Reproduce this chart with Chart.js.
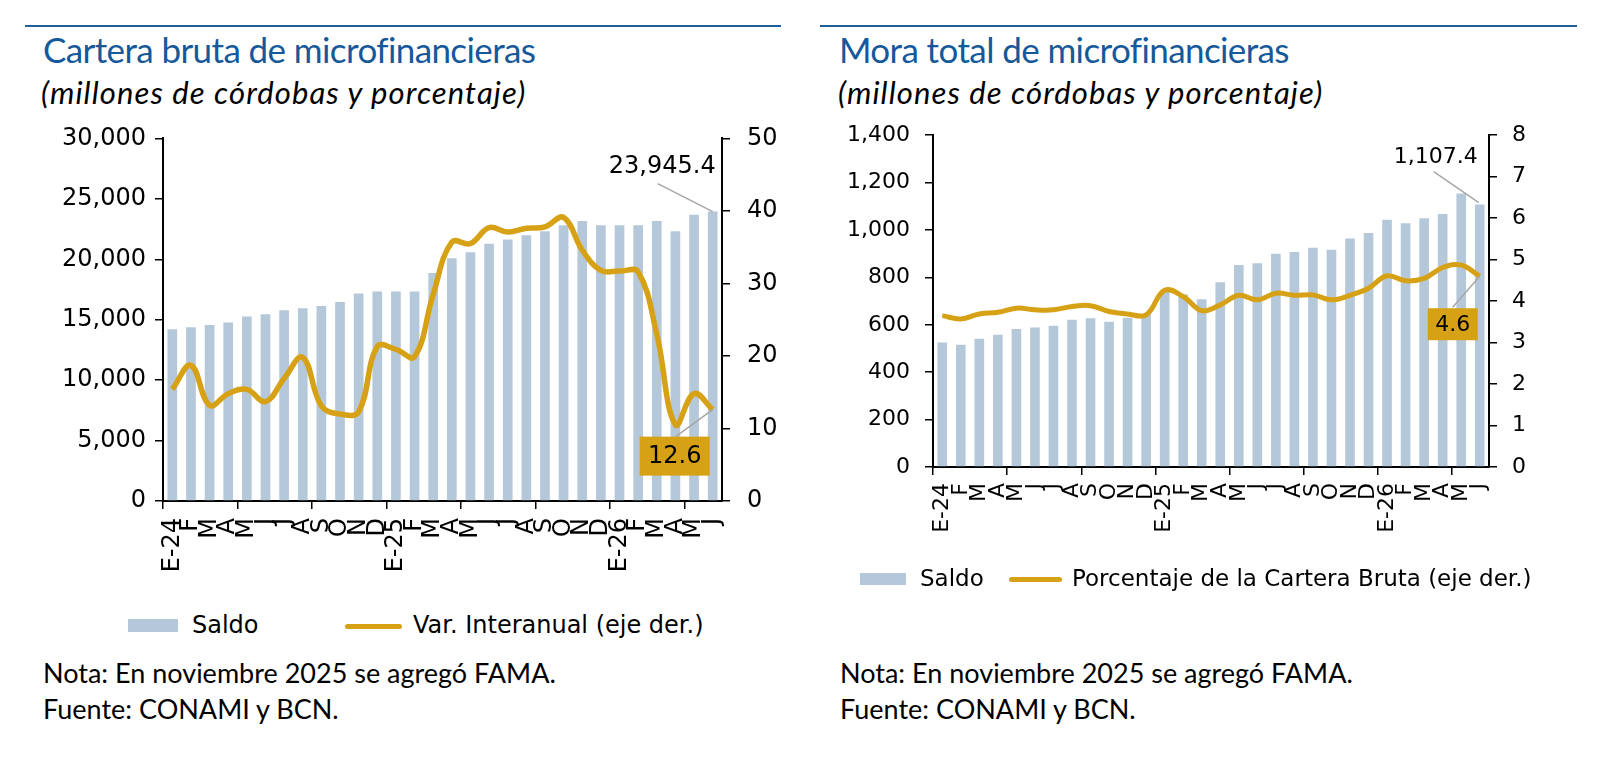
<!DOCTYPE html>
<html>
<head>
<meta charset="utf-8">
<script src="https://cdn.jsdelivr.net/npm/chart.js@4.4.0/dist/chart.umd.min.js"></script>
<style>
    body { margin: 0; width: 1606px; height: 772px; background: #fff; position: relative; overflow: hidden; font-family: Lato, sans-serif; }
    .rule { position: absolute; top: 25px; height: 2px; background: #1F5F9E; }
    .title { position: absolute; top: 29px; font-size: 35px; letter-spacing: -0.6px; line-height: 40px; color: #15599A; white-space: nowrap; }
    .subtitle { position: absolute; top: 74px; font-size: 31px; font-style: italic; letter-spacing: 1.1px; line-height: 36px; color: #000; white-space: nowrap; }
    .note { position: absolute; font-size: 27px; line-height: 32px; color: #000; white-space: nowrap; }
    .legend { position: absolute; font-family: "DejaVu Sans", sans-serif; color: #000; white-space: nowrap; }
    .swatch { position: absolute; background: #B5C8DA; }
    .lineswatch { position: absolute; height: 5px; border-radius: 3px; background: #D6A115; }
    canvas { position: absolute; }
</style>
</head>
<body>

<!-- left panel -->
<div class="rule" style="left:25px; width:756px;"></div>
<div class="title" style="left:43px;">Cartera bruta de microfinancieras</div>
<div class="subtitle" style="left:41px;">(millones de córdobas y porcentaje)</div>
<div id="wrapLeft" style="position:absolute; left:0; top:107px; width:800px; height:480px;">
    <canvas id="carteraChart"></canvas>
</div>
<div class="swatch" style="left:128px; top:619px; width:50px; height:13px;"></div>
<div class="legend" style="left:192px; top:609px; font-size:24px; line-height:32px;">Saldo</div>
<div class="lineswatch" style="left:345px; top:624px; width:57px;"></div>
<div class="legend" style="left:413px; top:609px; font-size:24px; line-height:32px;">Var. Interanual (eje der.)</div>
<div class="note" style="left:43px; top:657px;">Nota: En noviembre 2025 se agregó FAMA.</div>
<div class="note" style="left:43px; top:693px;">Fuente: CONAMI y BCN.</div>

<!-- right panel -->
<div class="rule" style="left:820px; width:757px;"></div>
<div class="title" style="left:839px;">Mora total de microfinancieras</div>
<div class="subtitle" style="left:838px;">(millones de córdobas y porcentaje)</div>
<div id="wrapRight" style="position:absolute; left:800px; top:107px; width:780px; height:470px;">
    <canvas id="moraChart"></canvas>
</div>
<div class="swatch" style="left:860px; top:573px; width:46px; height:12px;"></div>
<div class="legend" style="left:920px; top:563px; font-size:23px; line-height:30px;">Saldo</div>
<div class="lineswatch" style="left:1009px; top:577px; width:53px;"></div>
<div class="legend" style="left:1072px; top:563px; font-size:23px; line-height:30px;">Porcentaje de la Cartera Bruta (eje der.)</div>
<div class="note" style="left:840px; top:657px;">Nota: En noviembre 2025 se agregó FAMA.</div>
<div class="note" style="left:840px; top:693px;">Fuente: CONAMI y BCN.</div>

<script>
// Months Jan-2024 .. Jun-2026
const months = ['E-24', 'F', 'M', 'A', 'M', 'J', 'J', 'A', 'S', 'O', 'N', 'D',
                'E-25', 'F', 'M', 'A', 'M', 'J', 'J', 'A', 'S', 'O', 'N', 'D',
                'E-26', 'F', 'M', 'A', 'M', 'J'];

// Cartera bruta (millones de córdobas) and variación interanual (%)
const carteraSaldo = [14200, 14380, 14570, 14770, 15260, 15450, 15780, 15950, 16140, 16470, 17160, 17330,
                      17330, 17330, 18870, 20080, 20580, 21290, 21630, 21980, 22310, 22810, 23170, 22810,
                      22810, 22810, 23170, 22310, 23690, 23945.4];
const carteraVar = [15.4, 18.7, 13.2, 14.8, 15.4, 13.7, 16.9, 19.8, 13.1, 12.0, 12.3, 21.3,
                    20.9, 19.9, 28.5, 35.7, 35.5, 37.7, 37.1, 37.6, 37.8, 39.1, 34.6, 31.8,
                    31.7, 31.6, 23.0, 10.5, 14.8, 12.6];

// Mora total (millones de córdobas) and % de la cartera bruta
const moraSaldo = [525, 516, 541, 558, 582, 589, 596, 621, 628, 613, 630, 645,
                   738, 728, 708, 780, 852, 860, 900, 907, 925, 917, 964, 987,
                   1043, 1028, 1050, 1067, 1154, 1107.4];
const moraPct = [3.65, 3.57, 3.69, 3.73, 3.83, 3.79, 3.79, 3.87, 3.89, 3.75, 3.69, 3.67,
                 4.26, 4.11, 3.77, 3.91, 4.14, 4.03, 4.19, 4.14, 4.15, 4.03, 4.14, 4.31,
                 4.61, 4.49, 4.55, 4.81, 4.87, 4.6];

// Axis ticks
const carteraTicks = { max: 30000, step: 5000, rightMax: 50, rightStep: 10 };
const moraTicks = { max: 1400, step: 200, rightMax: 8, rightStep: 1 };

const BAR_COLOR = '#B5C8DA';
const LINE_COLOR = '#D6A115';
const LEADER_COLOR = '#A6A6A6';

// Draws the value call-outs (last bar / last point) with a leader line
const calloutPlugin = {
    id: 'callout',
    afterDatasetsDraw(chart, args, opts) {
        const ctx = chart.ctx;
        (opts.items || []).forEach(it => {
            const pt = chart.getDatasetMeta(it.dataset).data[it.index];
            const px = pt.x, py = pt.y;
            ctx.save();
            // leader
            ctx.strokeStyle = LEADER_COLOR;
            ctx.lineWidth = 1.5;
            ctx.beginPath();
            ctx.moveTo(px + it.from[0], py + it.from[1]);
            ctx.lineTo(px + it.to[0], py + it.to[1]);
            ctx.stroke();
            // label
            ctx.font = it.size + 'px "DejaVu Sans"';
            ctx.fillStyle = '#000';
            if (it.box) {
                const [bx, by, bw, bh] = it.box;
                ctx.fillStyle = LINE_COLOR;
                ctx.fillRect(px + bx, py + by, bw, bh);
                ctx.fillStyle = '#000';
                ctx.textAlign = 'center';
                ctx.textBaseline = 'middle';
                ctx.fillText(it.text, px + bx + bw / 2, py + by + bh / 2 + 1);
            } else {
                ctx.textAlign = 'right';
                ctx.textBaseline = 'alphabetic';
                ctx.fillText(it.text, px + it.at[0], py + it.at[1]);
            }
            ctx.restore();
        });
    }
};

function fmt(v) {
    return v.toLocaleString('en-US');
}

function buildChart(id, cfg) {
    const ctx = document.getElementById(id);
    const font = { family: '"DejaVu Sans"', size: cfg.fontSize };
    const tickGrid = { drawOnChartArea: false, tickLength: 8, color: '#000', lineWidth: 1.5 };
    const border = { color: '#000', width: 2 };

    return new Chart(ctx, {
        data: {
            labels: months,
            datasets: [{
                type: 'line',
                label: cfg.lineLabel,
                data: cfg.line,
                yAxisID: 'y1',
                borderColor: LINE_COLOR,
                borderWidth: cfg.lineWidth,
                tension: 0.4,
                pointRadius: 0,
                order: 0
            }, {
                type: 'bar',
                label: 'Saldo',
                data: cfg.bars,
                yAxisID: 'y',
                backgroundColor: BAR_COLOR,
                barPercentage: 0.52,
                categoryPercentage: 1,
                order: 1
            }]
        },
        options: {
            responsive: true,
            maintainAspectRatio: false,
            animation: false,
            // top of the plot comes from the tick label padding of the y axes
            layout: { padding: 0 },
            plugins: {
                legend: { display: false },
                tooltip: { enabled: false },
                callout: { items: cfg.callouts }
            },
            scales: {
                x: {
                    offset: true,
                    ticks: { autoSkip: false, minRotation: 90, maxRotation: 90, color: '#000', font: font, padding: cfg.xPad },
                    grid: Object.assign({}, tickGrid, {
                        offset: true,
                        color: c => (c.index % 4 === 0 ? '#000' : 'rgba(0,0,0,0)')
                    }),
                    border: border,
                    afterFit: s => { s.height = cfg.xHeight; }
                },
                y: {
                    position: 'left',
                    min: 0,
                    max: cfg.ticks.max,
                    ticks: { stepSize: cfg.ticks.step, color: '#000', font: font, padding: cfg.yPad, callback: v => fmt(v) },
                    grid: tickGrid,
                    border: border,
                    afterFit: s => { s.width = cfg.leftWidth; }
                },
                y1: {
                    position: 'right',
                    min: 0,
                    max: cfg.ticks.rightMax,
                    ticks: { stepSize: cfg.ticks.rightStep, color: '#000', font: font, padding: cfg.y1Pad },
                    grid: tickGrid,
                    border: border,
                    afterFit: s => { s.width = cfg.rightWidth; }
                }
            }
        },
        plugins: [calloutPlugin]
    });
}

document.addEventListener('DOMContentLoaded', function() {
    buildChart('carteraChart', {
        bars: carteraSaldo,
        line: carteraVar,
        lineLabel: 'Var. Interanual (eje der.)',
        ticks: carteraTicks,
        fontSize: 24,
        lineWidth: 5.5,
        leftWidth: 163,
        rightWidth: 78,
        xHeight: 86,
        xPad: 9,
        yPad: 9,
        y1Pad: 17,
        callouts: [
            { dataset: 1, index: 29, text: fmt(23945.4), size: 24, at: [3, -39], from: [-55, -28], to: [0, 0] },
            { dataset: 0, index: 29, text: '12.6', size: 24, box: [-73, 27, 70, 39], from: [-37, 27], to: [0, 0] }
        ]
    });

    buildChart('moraChart', {
        bars: moraSaldo,
        line: moraPct,
        lineLabel: 'Porcentaje de la Cartera Bruta (eje der.)',
        ticks: moraTicks,
        fontSize: 22,
        lineWidth: 5,
        leftWidth: 133,
        rightWidth: 91,
        xHeight: 110,
        xPad: 8,
        yPad: 15,
        y1Pad: 15,
        callouts: [
            { dataset: 1, index: 29, text: fmt(1107.4), size: 22, at: [-2, -42], from: [-46, -33], to: [-1, -2] },
            { dataset: 0, index: 29, text: '4.6', size: 22, box: [-52, 32, 50, 32], from: [-27, 31], to: [0, 0] }
        ]
    });
});
</script>
</body>
</html>
